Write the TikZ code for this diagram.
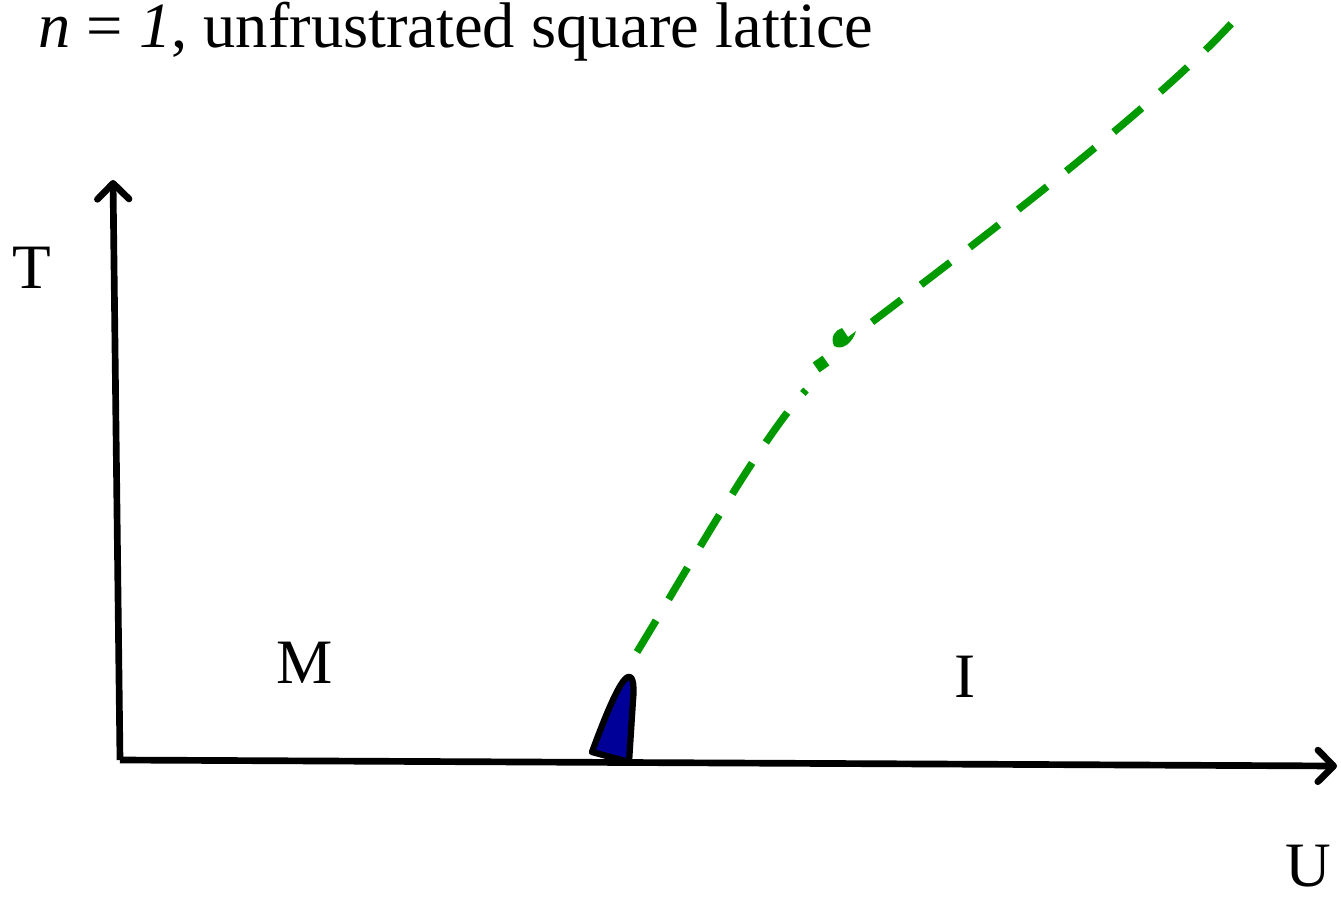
\documentclass[tikz,border=0pt]{standalone}
\usepackage{fontspec}
\setmainfont{Liberation Serif}
\usetikzlibrary{arrows.meta}
\tikzset{axis/.style={line width=3.8pt,-{Straight Barb[round,length=9pt,width=18pt]}},
	lbl/.style={font=\fontsize{36}{40}\selectfont,inner sep=0pt},
	trans/.style={line width=4.2pt,color=green!60!black,dash pattern=on 21pt off 14pt}}

\begin{document}
\begin{tikzpicture}[x=0.02cm,y=-0.02cm]
				\useasboundingbox (0,0) rectangle (1341,902);
				\coordinate (o) at (120,760);
				\coordinate (tend) at (113,180);
				\coordinate (uend) at (1337,766);
				\draw[axis] (o) -- (tend);
				\draw[axis] (o) -- (uend);
				\node[lbl,anchor=west,font=\fontsize{36.7}{40}\selectfont] (title) at (38,32) {\textit{n} = \textit{1}, unfrustrated square lattice};
				\node[lbl] (T) at (32,268) {T};
				\node[lbl] (U) at (1308,866) {U};
				\node[lbl] (M) at (305,663) {M};
				\node[lbl] (I) at (965,677) {I};
				% blue region
				\draw[line width=3.6pt,fill=blue!60!black,line join=round] (592,752) .. controls (606,714) and (620,680) .. (628,677) .. controls (634,675) and (634,690) .. (633,700) -- (629,762) -- cycle;
				% crossover line
				\draw[trans] (637,652) .. controls (690,565) and (760,440) .. (806,390);
				\fill[green!60!black,rotate around={35:(821,364)}] (815,358) rectangle (827,370);
				\fill[green!60!black] (834,346) .. controls (830,337) and (835,330) .. (842,328) -- (848,337) -- (856,331) .. controls (853,342) and (843,351) .. (834,346) -- cycle;
				\draw[trans] (872,322) .. controls (960,255) and (1160,105) .. (1240,14);
			\end{tikzpicture}
\end{document}
